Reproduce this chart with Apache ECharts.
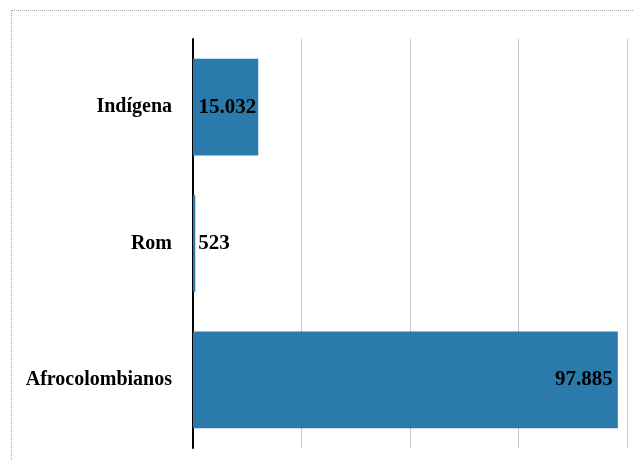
<!DOCTYPE html>
<html><head><meta charset="utf-8">
<script src="https://cdn.jsdelivr.net/npm/echarts@6/dist/echarts.min.js"></script>
<style>
html,body{margin:0;padding:0;background:#fff;}
#frame{position:absolute;left:11px;top:10px;width:700px;height:600px;border-left:1px dotted #aaa;border-top:1px dotted #aaa;box-sizing:border-box;}
#c{position:absolute;left:0;top:0;width:634px;height:460px;}
</style></head>
<body>
<div id="frame"></div>
<div id="c"></div>
<script>
var categories = ['Afrocolombianos', 'Rom', 'Indígena'];
var values = [97885, 523, 15032];
var labelPositions = ['insideRight', 'right', 'insideRight'];
var xMax = 100000;
var xInterval = 25000;

function fmt(v){ return String(v).replace(/\B(?=(\d{3})+(?!\d))/g, '.'); }

var chart = echarts.init(document.getElementById('c'), null, {renderer:'canvas'});
chart.setOption({
  animation:false,
  grid:{left:193, right:7, top:39, bottom:12, containLabel:false},
  xAxis:{type:'value', min:0, max:xMax, interval:xInterval,
    axisLabel:{show:false}, axisLine:{show:false}, axisTick:{show:false},
    splitLine:{show:true, lineStyle:{color:'#c8c8c8', width:1}}},
  yAxis:{type:'category', data:categories,
    axisLine:{show:true, lineStyle:{color:'#000', width:2}},
    axisTick:{show:false},
    axisLabel:{fontFamily:'Liberation Serif', fontWeight:'bold', fontSize:20, color:'#000', margin:21}},
  series:[{type:'bar', barCategoryGap:'29%',
    data: values.map(function(v,i){ return {value:v, label:{position:labelPositions[i], distance: i===2?2:(i===1?3:5)}}; }),
    itemStyle:{color:'#2a7aab'},
    label:{show:true, fontFamily:'Liberation Serif', fontWeight:'bold', fontSize:21, color:'#000',
      formatter:function(p){ return fmt(p.value); }}
  }]
});
</script>
</body></html>
